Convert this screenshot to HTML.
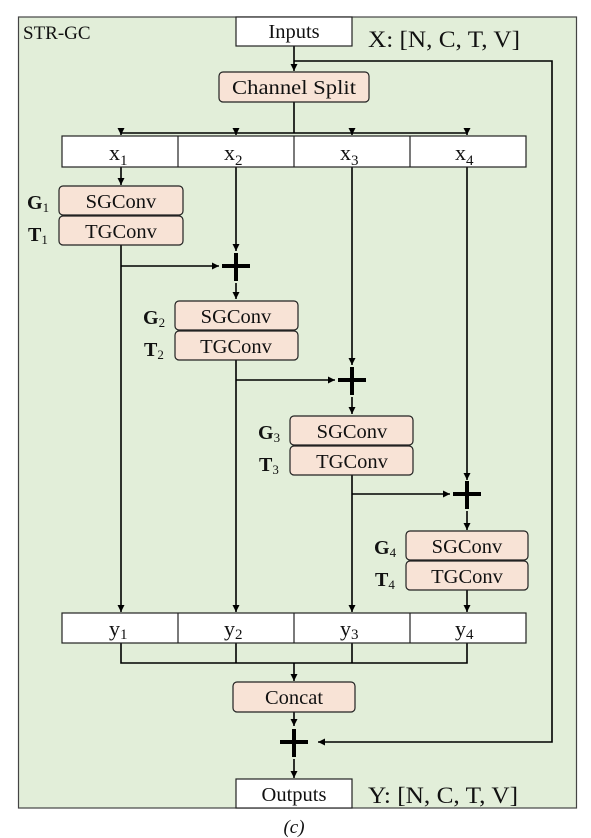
<!DOCTYPE html>
<html><head><style>
html,body{margin:0;padding:0;background:#fff;}
svg{display:block;}
text{font-family:"Liberation Serif",serif;fill:#111;}
</style></head><body>
<svg width="591" height="838" viewBox="0 0 591 838" xmlns="http://www.w3.org/2000/svg">
<defs>
<marker id="a" markerWidth="8" markerHeight="8" refX="7" refY="4" orient="auto" markerUnits="userSpaceOnUse">
<path d="M0,0.5 L7,4 L0,7.5 z" fill="#000"/></marker>
</defs>
<rect x="18.5" y="17" width="558" height="791" fill="#e2eed9" stroke="#444" stroke-width="1.2"/>
<text x="23" y="39" font-size="19">STR-GC</text>
<g stroke="#000" stroke-width="1.6" fill="none">
<path d="M294,46 V71" marker-end="url(#a)"/>
<path d="M294,61 H552 V742 H318" marker-end="url(#a)"/>
<path d="M294,102 V133 M121,133 H467"/>
<path d="M121,133 V135" marker-end="url(#a)"/>
<path d="M236,133 V135" marker-end="url(#a)"/>
<path d="M352,133 V135" marker-end="url(#a)"/>
<path d="M467,133 V135" marker-end="url(#a)"/>
<path d="M121,167 V185" marker-end="url(#a)"/>
<path d="M236,167 V251" marker-end="url(#a)"/>
<path d="M352,167 V365" marker-end="url(#a)"/>
<path d="M467,167 V480" marker-end="url(#a)"/>
<path d="M121,245 V612" marker-end="url(#a)"/>
<path d="M121,266 H219" marker-end="url(#a)"/>
<path d="M236,283 V299" marker-end="url(#a)"/>
<path d="M236,360 V612" marker-end="url(#a)"/>
<path d="M236,380 H335" marker-end="url(#a)"/>
<path d="M352,397 V414" marker-end="url(#a)"/>
<path d="M352,475 V612" marker-end="url(#a)"/>
<path d="M352,494 H450" marker-end="url(#a)"/>
<path d="M467,511 V530" marker-end="url(#a)"/>
<path d="M467,590 V612" marker-end="url(#a)"/>
<path d="M121,643 V663 H467 V643 M236,643 V663 M352,643 V663"/>
<path d="M294,663 V681" marker-end="url(#a)"/>
<path d="M294,712 V726" marker-end="url(#a)"/>
<path d="M294,759 V778" marker-end="url(#a)"/>
</g>
<g fill="#000">
<rect x="222" y="264" width="28" height="4"/><rect x="234" y="253" width="4" height="28"/>
<rect x="338" y="378" width="28" height="4"/><rect x="350" y="367" width="4" height="28"/>
<rect x="453" y="492" width="28" height="4"/><rect x="465" y="481" width="4" height="28"/>
<rect x="280" y="740" width="28" height="4"/><rect x="292" y="729" width="4" height="28"/>
</g>
<g stroke="#222" stroke-width="1.2">
<rect x="236" y="17" width="116" height="29" fill="#fff"/>
<rect x="219" y="72" width="150" height="30" rx="4" fill="#f8e3d6"/>
<rect x="62" y="136" width="464" height="31" fill="#fff"/>
<path d="M178,136 V167 M294,136 V167 M410,136 V167" fill="none"/>
<rect x="62" y="613" width="464" height="30" fill="#fff"/>
<path d="M178,613 V643 M294,613 V643 M410,613 V643" fill="none"/>
<rect x="59" y="186" width="124" height="29" rx="4" fill="#f8e3d6"/>
<rect x="59" y="216" width="124" height="29" rx="4" fill="#f8e3d6"/>
<rect x="175" y="301" width="123" height="29" rx="4" fill="#f8e3d6"/>
<rect x="175" y="331" width="123" height="29" rx="4" fill="#f8e3d6"/>
<rect x="290" y="416" width="123" height="29" rx="4" fill="#f8e3d6"/>
<rect x="290" y="446" width="123" height="29" rx="4" fill="#f8e3d6"/>
<rect x="406" y="531" width="122" height="29" rx="4" fill="#f8e3d6"/>
<rect x="406" y="561" width="122" height="29" rx="4" fill="#f8e3d6"/>
<rect x="233" y="682" width="122" height="30" rx="4" fill="#f8e3d6"/>
<rect x="236" y="779" width="116" height="29" fill="#fff"/>
</g>
<g font-size="20.5" text-anchor="middle">
<text x="294" y="38">Inputs</text>
<text x="294" y="94" textLength="124" lengthAdjust="spacingAndGlyphs">Channel Split</text>
<text x="121" y="208">SGConv</text><text x="121" y="238">TGConv</text>
<text x="236" y="323">SGConv</text><text x="236" y="353">TGConv</text>
<text x="352" y="438">SGConv</text><text x="352" y="468">TGConv</text>
<text x="467" y="553">SGConv</text><text x="467" y="583">TGConv</text>
<text x="294" y="704">Concat</text>
<text x="294" y="801">Outputs</text>
<text x="294" y="833" font-style="italic" font-size="19">(c)</text>
</g>
<g font-size="23">
<text x="368" y="47" textLength="152" lengthAdjust="spacingAndGlyphs">X: [N, C, T, V]</text>
<text x="368" y="803" textLength="150" lengthAdjust="spacingAndGlyphs">Y: [N, C, T, V]</text>
</g>
<g font-size="22">
<text x="109" y="160">x<tspan font-size="15" dy="5">1</tspan></text>
<text x="224" y="160">x<tspan font-size="15" dy="5">2</tspan></text>
<text x="340" y="160">x<tspan font-size="15" dy="5">3</tspan></text>
<text x="455" y="160">x<tspan font-size="15" dy="5">4</tspan></text>
<text x="109" y="636">y<tspan font-size="15" dy="3">1</tspan></text>
<text x="224" y="636">y<tspan font-size="15" dy="3">2</tspan></text>
<text x="340" y="636">y<tspan font-size="15" dy="3">3</tspan></text>
<text x="455" y="636">y<tspan font-size="15" dy="3">4</tspan></text>
</g>
<g font-size="20" font-weight="bold">
<text x="27" y="209">G<tspan font-size="13" font-weight="normal" dy="3">1</tspan></text>
<text x="28" y="241">T<tspan font-size="13" font-weight="normal" dy="3">1</tspan></text>
<text x="143" y="324">G<tspan font-size="13" font-weight="normal" dy="3">2</tspan></text>
<text x="144" y="356">T<tspan font-size="13" font-weight="normal" dy="3">2</tspan></text>
<text x="258" y="439">G<tspan font-size="13" font-weight="normal" dy="3">3</tspan></text>
<text x="259" y="471">T<tspan font-size="13" font-weight="normal" dy="3">3</tspan></text>
<text x="374" y="554">G<tspan font-size="13" font-weight="normal" dy="3">4</tspan></text>
<text x="375" y="586">T<tspan font-size="13" font-weight="normal" dy="3">4</tspan></text>
</g>
</svg>
</body></html>
